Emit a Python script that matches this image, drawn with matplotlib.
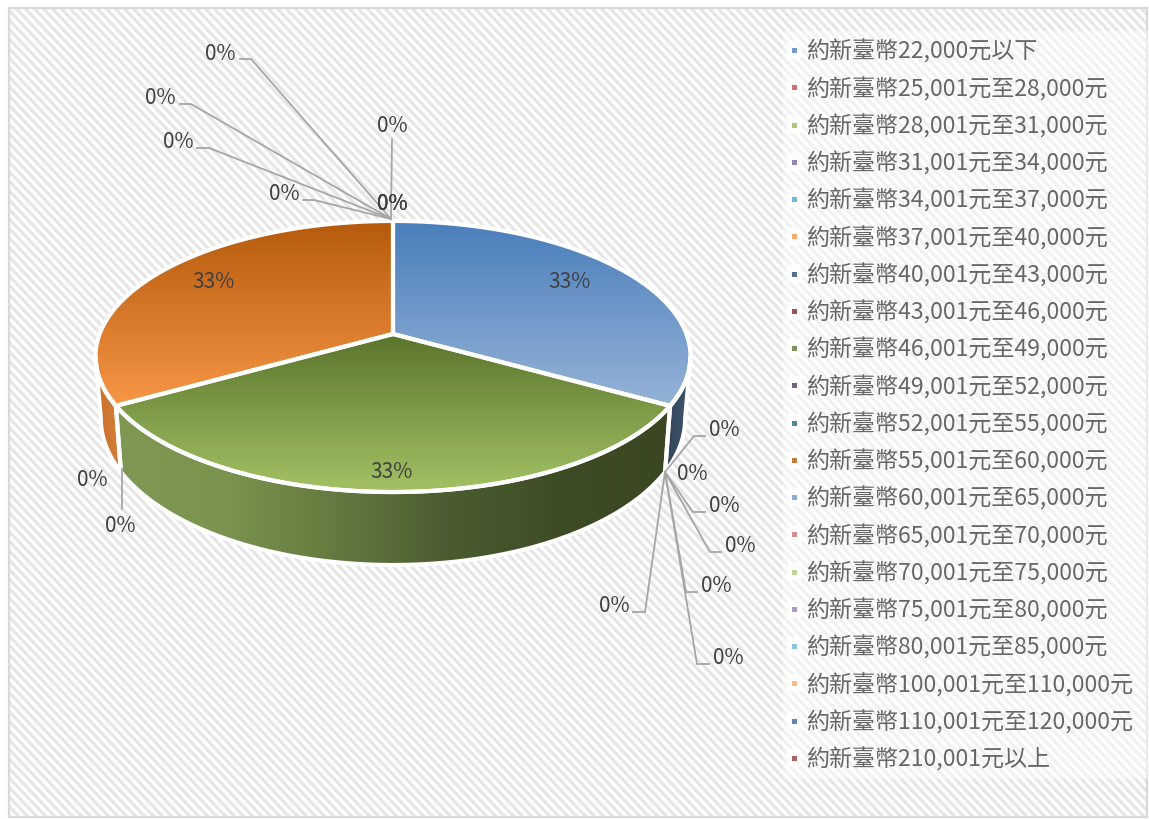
import numpy as np
import matplotlib
matplotlib.use("Agg")
import matplotlib.pyplot as plt
from matplotlib.colors import LinearSegmentedColormap
from matplotlib.patches import FancyBboxPatch, Polygon, Rectangle

categories = [
    "約新臺幣22,000元以下", "約新臺幣25,001元至28,000元", "約新臺幣28,001元至31,000元",
    "約新臺幣31,001元至34,000元", "約新臺幣34,001元至37,000元", "約新臺幣37,001元至40,000元",
    "約新臺幣40,001元至43,000元", "約新臺幣43,001元至46,000元", "約新臺幣46,001元至49,000元",
    "約新臺幣49,001元至52,000元", "約新臺幣52,001元至55,000元", "約新臺幣55,001元至60,000元",
    "約新臺幣60,001元至65,000元", "約新臺幣65,001元至70,000元", "約新臺幣70,001元至75,000元",
    "約新臺幣75,001元至80,000元", "約新臺幣80,001元至85,000元", "約新臺幣100,001元至110,000元",
    "約新臺幣110,001元至120,000元", "約新臺幣210,001元以上",
]
values = [1, 0, 0, 0, 0, 0, 0, 0, 1, 0, 0, 1, 0, 0, 0, 0, 0, 0, 0, 0]
legend_colors = [
    "#4f81bd", "#c0504d", "#9bbb59", "#8064a2", "#4bacc6", "#f79646", "#2c4d75",
    "#772c2a", "#5f7530", "#4d3b62", "#276a7c", "#b65708", "#729aca", "#cd7371",
    "#afc97a", "#9983b5", "#6fbdd1", "#f9ab6b", "#3a679c", "#9f3b38",
]

# layout in pixels: label centre per category, then the leader line (None = no leader)
TOP = (391, 220)
RIGHT = (665, 473)
label_pos = {
    0: (570, 281), 8: (392, 471), 11: (214, 281),
    1: (724, 429), 2: (692, 473), 3: (724, 505), 4: (740, 545),
    5: (716, 585), 6: (728, 657), 7: (614, 605),
    9: (120, 525), 10: (92, 479),
    12: (392, 203), 13: (392, 203), 14: (392, 203), 15: (392, 125),
    16: (284, 193), 17: (178, 141), 18: (160, 97), 19: (220, 53),
}
leaders = {
    1: [(705, 437), (694, 437), RIGHT], 3: [(705, 513), (693, 513), RIGHT],
    4: [(721, 553), (710, 553), RIGHT], 5: [(697, 593), (686, 593), RIGHT],
    6: [(709, 665), (697, 665), RIGHT], 7: [(633, 613), (645, 613), RIGHT],
    9: [(122, 510), (122, 470)],
    15: [(392, 140), TOP], 16: [(303, 201), (314, 201), TOP],
    17: [(197, 149), (209, 149), TOP], 18: [(180, 105), (191, 105), TOP],
    19: [(240, 60), (251, 60), TOP],
}

plt.rcParams["font.family"] = ["Noto Sans CJK TC", "DejaVu Sans"]

# perspective of the pie disc
CX, K = 393, 0.166
TOP_Y, TOP_A, TOP_B = 335, 293.4, 131.8
BOT_Y, BOT_A, BOT_B = 395.5, 288.1, 142.2


def disc(theta, y0, a, b):
    w = 1 / (1 + K * np.cos(theta))
    return np.column_stack([CX + a * np.sin(theta) * w, y0 - b * np.cos(theta) * w])


def cmap(*stops):
    return LinearSegmentedColormap.from_list("c", stops)


def fill(ax, pts, grad, extent, horizontal=False):
    poly = Polygon(pts, closed=True, fc="none", ec="none", transform=ax.transData)
    ax.add_patch(poly)
    g = np.linspace(0, 1, 256)
    g = g[None, :] if horizontal else g[:, None]
    im = ax.imshow(g, cmap=grad, extent=extent, origin="upper", aspect="auto", zorder=2, vmin=0, vmax=1)
    im.set_clip_path(poly)
    ax.add_patch(Polygon(pts, closed=True, fc="none", ec="white", lw=3.0, zorder=3, joinstyle="miter"))


fig = plt.figure(figsize=(11.49, 8.2), dpi=100)
ax = fig.add_axes([0, 0, 1, 1])
ax.axis("off")

# striped background
yy, xx = np.mgrid[0:809, 0:1138]
stripes = np.clip(0.5 + 1.1 * np.sin(2 * np.pi * (xx - 0.95 * yy) / 9.0), 0, 1)
ax.imshow(stripes, cmap=cmap("#e6e6e6", "#ffffff"), extent=(9, 1147, 818, 9), interpolation="bilinear", aspect="auto", zorder=0)
ax.add_patch(Rectangle((9, 9), 1138, 809, fc="none", ec="#d9d9d9", lw=1.6, zorder=1))

# wedges from the values, clockwise from the top
total = sum(values)
start = 0.0
wedges = {}
for i, v in enumerate(values):
    if v > 0:
        wedges[i] = (start, start + 2 * np.pi * v / total)
    start += 2 * np.pi * v / total

top_grads = {
    0: (cmap("#4a7ebb", "#95b3d7"), (90, 700, 407, 222)),
    8: (cmap("#5a752c", "#a3c264"), (90, 700, 493, 335)),
    11: (cmap("#b55a0c", "#f79646"), (90, 700, 407, 222)),
}
wall_grads = {
    0: cmap("#2f4258", "#43586f"),
    8: cmap("#7f9853", "#7a934e", "#64793f", "#4a5c30", "#3e4c26", "#3a4722"),
    11: cmap("#c96f2c", "#d58039"),
}

# visible part of the side wall: between the two silhouette angles
vis_lo, vis_hi = np.arccos(-K), 2 * np.pi - np.arccos(-K)
for i, (a0, a1) in wedges.items():
    lo, hi = max(a0, vis_lo), min(a1, vis_hi)
    if hi > lo:
        t = np.linspace(lo, hi, 120)
        pts = np.vstack([disc(t, TOP_Y, TOP_A, TOP_B), disc(t[::-1], BOT_Y, BOT_A, BOT_B)])
        x0, x1 = pts[:, 0].min(), pts[:, 0].max()
        fill(ax, pts, wall_grads[i], (x0, x1, 820, 200), horizontal=True)

for i, (a0, a1) in wedges.items():
    t = np.linspace(a0, a1, 200)
    pts = np.vstack([[CX, TOP_Y], disc(t, TOP_Y, TOP_A, TOP_B)])
    fill(ax, pts, top_grads[i][0], top_grads[i][1])

# data labels
for i, v in enumerate(values):
    x, y = label_pos[i]
    ax.text(x, y + 1.5, f"{v / total:.0%}", fontsize=15, color="#404040", ha="center", va="center", zorder=6)
    if i in leaders:
        xs, ys = zip(*leaders[i])
        ax.plot(xs, ys, color="#a6a6a6", lw=1.3, zorder=5, solid_joinstyle="miter")

# legend
ax.add_patch(Rectangle((783, 32), 366, 748, fc="white", alpha=0.45, ec="none", zorder=1))
for i, (name, color) in enumerate(zip(categories, legend_colors)):
    y = 51 + 37.26 * i
    ax.add_patch(FancyBboxPatch((787, y - 9), 15, 18, boxstyle="round,pad=0,rounding_size=3", fc="white", ec="none", alpha=0.9, zorder=2))
    ax.plot([794], [y], marker="s", ms=3.6, color=color, mew=0, alpha=0.8, zorder=4)
    ax.text(806.5, y + 0.8, name, fontsize=16.6, color="#666666", ha="left", va="center", zorder=4)

ax.set_xlim(0, 1149)
ax.set_ylim(820, 0)
fig.savefig("out.png", dpi=100, facecolor="white")
